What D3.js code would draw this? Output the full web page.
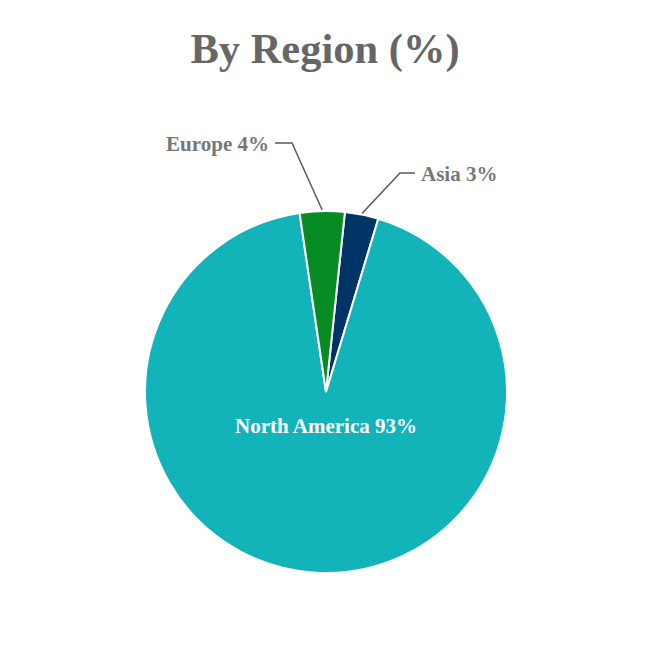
<!DOCTYPE html>
<meta charset="utf-8">
<head>
<style>
body { margin: 0; background: #fff; }
svg { font-family: "Liberation Serif", "Times New Roman", serif; }
</style>
</head>
<script src="https://d3js.org/d3.v7.min.js"></script>
<div id="chart"></div>
<script>
// data
var regions = ["Asia", "North America", "Europe"];
var shares = [3, 93, 4];
var colors = ["#003466", "#13B3BA", "#078C24"];

var width = 652, height = 652;
var cx = 326, cy = 392, radius = 181;

var svg = d3.select("#chart").append("svg")
  .attr("width", width)
  .attr("height", height);

// title
svg.append("text")
  .attr("x", 325)
  .attr("y", 63)
  .attr("text-anchor", "middle")
  .style("font-size", "42.5px")
  .style("font-weight", "bold")
  .style("fill", "#666666")
  .text("By Region (%)");

var data = regions.map(function(r, i) { return {name: r, value: shares[i], color: colors[i]}; });

var startOff = 6 * Math.PI / 180;
var pie = d3.pie()
  .value(function(d) { return d.value; })
  .sort(null)
  .startAngle(startOff)
  .endAngle(startOff + 2 * Math.PI);

var arc = d3.arc().innerRadius(0).outerRadius(radius);

var g = svg.append("g").attr("transform", "translate(" + cx + "," + cy + ")");

var arcs = pie(data);

g.selectAll("path")
  .data(arcs)
  .enter()
  .append("path")
    .attr("d", arc)
    .style("fill", function(d) { return d.data.color; })
    .style("stroke", "#ffffff")
    .style("stroke-width", 2);

// outside labels with leader lines
var outside = {
  "Europe": {elbow: [-34, -249], lineEnd: [-51, -249], text: [-57, -241], anchor: "end"},
  "Asia":   {elbow: [74, -219], lineEnd: [89, -219], text: [95, -211], anchor: "start"}
};

arcs.forEach(function(d) {
  var o = outside[d.data.name];
  var mid = (d.startAngle + d.endAngle) / 2;
  if (o) {
    var r0 = radius + 1;
    var p0 = [Math.sin(mid) * r0, -Math.cos(mid) * r0];
    g.append("polyline")
      .attr("points", [p0, o.elbow, o.lineEnd].map(function(p) { return p.join(","); }).join(" "))
      .style("fill", "none")
      .style("stroke", "#595959")
      .style("stroke-width", 1.5);
    g.append("text")
      .attr("x", o.text[0])
      .attr("y", o.text[1])
      .attr("text-anchor", o.anchor)
      .style("font-size", "21px")
      .style("font-weight", "bold")
      .style("fill", "#777777")
      .text(d.data.name + " " + d.data.value + "%");
  } else {
    g.append("text")
      .attr("x", 0)
      .attr("y", 41)
      .attr("text-anchor", "middle")
      .style("font-size", "21px")
      .style("font-weight", "bold")
      .style("fill", "#ffffff")
      .text(d.data.name + " " + d.data.value + "%");
  }
});
</script>
